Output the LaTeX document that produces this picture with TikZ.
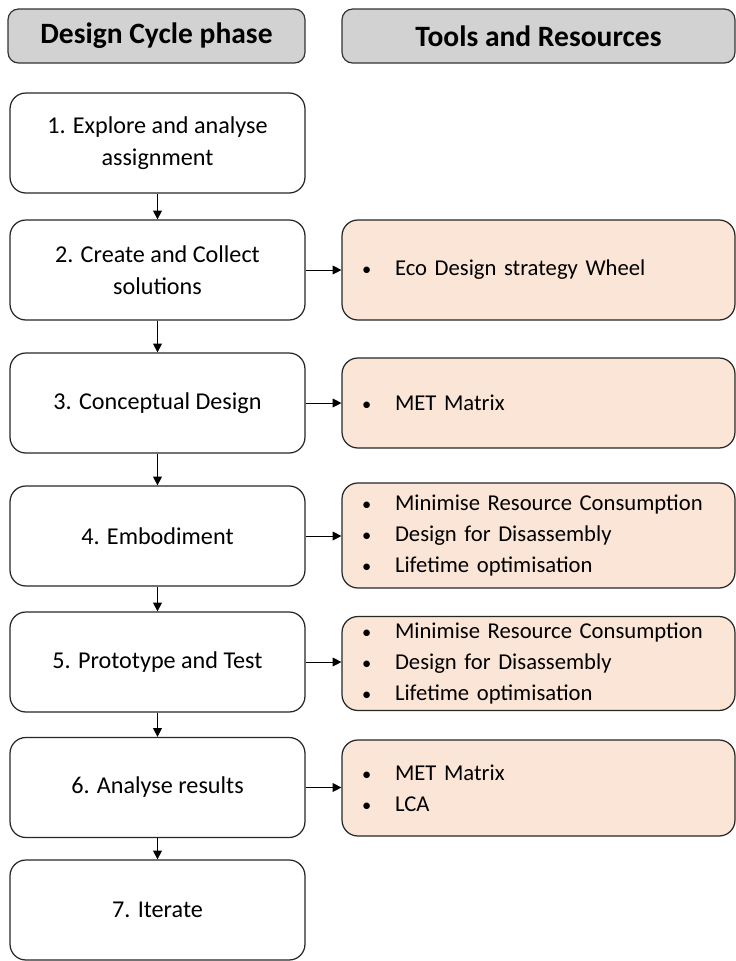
\documentclass[tikz,border=0pt]{standalone}
\usepackage{fontspec}
\setmainfont{Carlito}
\usetikzlibrary{arrows.meta}
\definecolor{headgray}{HTML}{D3D2D2}
\definecolor{toolpeach}{HTML}{FBE5D6}
\def\itm{\hspace*{0.2cm}\makebox[0.66cm][l]{\fontsize{10.5}{10.5}\selectfont\textbullet}}
\def\bodyfont{\fontsize{13.75}{17.9}\selectfont}
\def\toolfont{\fontsize{12.9}{17.9}\selectfont}

\begin{document}
\begin{tikzpicture}[x=0.02cm, y=-0.02cm,
	header/.style={draw=black!80, fill=headgray, rounded corners=6pt, line width=0.7pt,
		minimum height=1.08cm, font=\fontsize{16.8}{20}\selectfont\bfseries},
	phase/.style={draw=black!85, rounded corners=9pt, line width=0.7pt,
		minimum width=5.9cm, minimum height=2.0cm, align=center, font=\bodyfont},
	tool/.style={draw=black!85, fill=toolpeach, rounded corners=9pt, line width=0.7pt,
		text width=7.46cm, inner xsep=0.2cm, align=left, font=\toolfont},
	link/.style={-{Triangle[length=5pt,width=5pt]}, line width=0.5pt}]
	\useasboundingbox (0,0) rectangle (736,961);

	% headers
	\node[header, minimum width=5.94cm] (hphase) at (156.5,36) {Design Cycle phase};
	\node[header, minimum width=7.86cm] (htools) at (538.5,36) {Tools and Resources};

	% design cycle
	\node[phase] (b1) at (157.5,143) {1. Explore and analyse\\assignment};
	\node[phase] (b2) at (157.5,270) {2. Create and Collect\\solutions};
	\node[phase] (b3) at (157.5,403) {3. Conceptual Design};
	\node[phase] (b4) at (157.5,536) {4. Embodiment};
	\node[phase] (b5) at (157.5,662) {5. Prototype and Test};
	\node[phase] (b6) at (157.5,787.5) {6. Analyse results};
	\node[phase] (b7) at (157.5,910) {7. Iterate};

	% tools
	\node[tool, minimum height=2.0cm] (t2) at (538.5,270) {\itm Eco Design strategy Wheel};
	\node[tool, minimum height=1.8cm] (t3) at (538.5,403) {\itm MET Matrix};
	\node[tool, minimum height=2.1cm] (t4) at (538.5,535.5) {\itm Minimise Resource Consumption\\\itm Design for Disassembly\\\itm Lifetime optimisation};
	\node[tool, minimum height=1.86cm] (t5) at (538.5,663.5) {\itm Minimise Resource Consumption\\\itm Design for Disassembly\\\itm Lifetime optimisation};
	\node[tool, minimum height=1.92cm] (t6) at (538.5,788) {\itm MET Matrix\\\itm LCA};

	\foreach \a/\b in {b1/b2, b2/b3, b3/b4, b4/b5, b5/b6, b6/b7}
		\draw[link] (\a) -- (\b);
	\foreach \a/\b in {b2/t2, b3/t3, b4/t4, b5/t5, b6/t6}
		\draw[link] (\a.east) -- (\a.east -| \b.west);
\end{tikzpicture}
\end{document}
